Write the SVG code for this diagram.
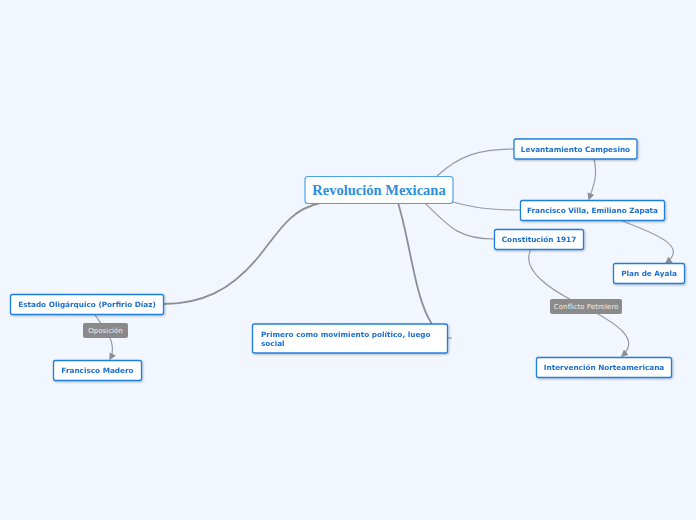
<svg xmlns="http://www.w3.org/2000/svg" width="696" height="520" viewBox="0 0 696 520">
<defs>
<style>
.n rect{fill:#fff;stroke:#1f7fe0;stroke-width:1.3}
.n text{font-family:"DejaVu Sans",Verdana,sans-serif;font-weight:bold;font-size:7.3px;fill:#1d6fd0;text-anchor:middle}
.c{fill:none;stroke:#9a9aa4;stroke-width:1.2}
.m{fill:none;stroke:#8e8e96;stroke-width:1.8}
.lb rect{fill:#8a8a8a}
.lb text{font-family:"DejaVu Sans",Verdana,sans-serif;font-size:7px;fill:#eee;text-anchor:middle}
</style>
<marker id="a" viewBox="0 0 10 10" refX="8" refY="5" markerWidth="6" markerHeight="6" orient="auto"><path d="M0,0 L10,5 L0,10 z" fill="#8e8e96"/></marker>
<filter id="sh" x="-10%" y="-20%" width="120%" height="150%"><feDropShadow dx="1" dy="1" stdDeviation="0.8" flood-color="#000" flood-opacity="0.25"/></filter>
</defs>
<rect width="696" height="520" fill="#f2f6fe"/>
<g id="connectors">
<path class="c" d="M437,176 C460,155 480,149 514,149"/>
<path class="c" d="M453,202 C475,208 490,210 520,210"/>
<path class="c" d="M425,203 C450,228 460,239 494,239"/>
<path class="m" d="M320,203 C290,210 280,230 260,255 C230,292 200,304 163,304"/>
<path class="m" d="M398,203 C410,240 415,300 432,324"/>
<path class="c" d="M448,338 L452,338"/>
<path class="c" d="M594,159 C598,175 594,185 589,199" marker-end="url(#a)"/>
<path class="c" d="M620,220 C650,232 690,245 666,263" marker-end="url(#a)"/>
<path class="c" d="M531,249 C520,270 550,290 585,307 C620,325 640,340 622,356" marker-end="url(#a)"/>
<path class="c" d="M95,315 C100,322 105,330 106,330 C112,340 115,350 110,359" marker-end="url(#a)"/>
</g>
<g id="central"><rect x="305" y="176.5" width="148" height="27" rx="3" fill="#fff" stroke="#4aa3ea" stroke-width="1.2"/><text x="379" y="195" font-family="Liberation Serif,serif" font-weight="bold" font-size="14.5" fill="#2a8fe0" text-anchor="middle">Revolución Mexicana</text></g>
<g id="levantamiento" class="n" filter="url(#sh)"><rect x="514" y="139" width="123" height="20" rx="2"/><text x="575.5" y="151.7">Levantamiento Campesino</text></g>
<g id="villa" class="n" filter="url(#sh)"><rect x="520.5" y="200.5" width="144" height="20" rx="2"/><text x="592.5" y="213.2">Francisco Villa, Emiliano Zapata</text></g>
<g id="constitucion" class="n" filter="url(#sh)"><rect x="494.5" y="229.5" width="89" height="20" rx="2"/><text x="539" y="242.2">Constitución 1917</text></g>
<g id="ayala" class="n" filter="url(#sh)"><rect x="613.5" y="263.5" width="71" height="20" rx="2"/><text x="649" y="276.2">Plan de Ayala</text></g>
<g id="intervencion" class="n" filter="url(#sh)"><rect x="536.5" y="357.5" width="135" height="20" rx="2"/><text x="604" y="370.2">Intervención Norteamericana</text></g>
<g id="estado" class="n" filter="url(#sh)"><rect x="10.5" y="294.5" width="153" height="20" rx="2"/><text x="87" y="307.2">Estado Oligárquico (Porfirio Díaz)</text></g>
<g id="madero" class="n" filter="url(#sh)"><rect x="53.5" y="360.5" width="88" height="20" rx="2"/><text x="97.5" y="373.2">Francisco Madero</text></g>
<g id="primero" class="n" filter="url(#sh)"><rect x="252.5" y="324" width="195" height="29" rx="2"/><text x="261" y="336.5" style="text-anchor:start">Primero como movimiento político, luego</text><text x="261" y="346" style="text-anchor:start">social</text></g>
<g id="oposicion" class="lb"><rect x="83" y="323" width="45" height="15" rx="2"/><text x="105.5" y="333">Oposición</text></g>
<g id="conflicto" class="lb"><rect x="550" y="299" width="72" height="15" rx="2"/><text x="586" y="309">Conflicto Petrolero</text></g>
</svg>
